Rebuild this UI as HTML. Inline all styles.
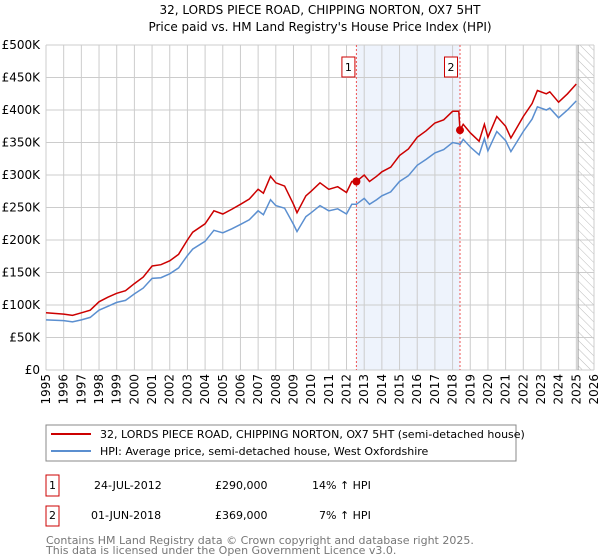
<!DOCTYPE html>
<html><head><meta charset="utf-8"><style>
body{margin:0;background:#fff;font-family:"DejaVu Sans","Liberation Sans",sans-serif;}
svg{display:block}
</style></head><body>
<svg id="chart" width="600" height="560" xmlns="http://www.w3.org/2000/svg" font-family="DejaVu Sans, Liberation Sans, sans-serif">
<text x="320" y="14" text-anchor="middle" font-size="12">32, LORDS PIECE ROAD, CHIPPING NORTON, OX7 5HT</text>
<text x="320" y="31" text-anchor="middle" font-size="12">Price paid vs. HM Land Registry's House Price Index (HPI)</text>
<g id="plot"></g>
<g>
<rect x="46" y="425" width="470" height="36" fill="#fff" stroke="#888"/>
<line x1="51" y1="434" x2="91" y2="434" stroke="#cc0000" stroke-width="2"/>
<text x="100" y="438" font-size="11">32, LORDS PIECE ROAD, CHIPPING NORTON, OX7 5HT (semi-detached house)</text>
<line x1="51" y1="451" x2="91" y2="451" stroke="#5b8fd0" stroke-width="2"/>
<text x="100" y="455" font-size="11">HPI: Average price, semi-detached house, West Oxfordshire</text>
</g>
<g font-size="11">
<rect x="46" y="475" width="13" height="21" fill="#fff" stroke="#cc0000"/>
<text x="52.5" y="489" text-anchor="middle">1</text>
<text x="94" y="489">24-JUL-2012</text>
<text x="215" y="489">£290,000</text>
<text x="312" y="489">14% ↑ HPI</text>
</g>
<g font-size="11">
<rect x="46" y="506" width="13" height="20" fill="#fff" stroke="#cc0000"/>
<text x="52.5" y="519" text-anchor="middle">2</text>
<text x="91" y="519">01-JUN-2018</text>
<text x="215" y="519">£369,000</text>
<text x="319" y="519">7% ↑ HPI</text>
</g>
<text x="46" y="544" font-size="11" fill="#777">Contains HM Land Registry data © Crown copyright and database right 2025.</text>
<text x="46" y="554" font-size="11" fill="#777">This data is licensed under the Open Government Licence v3.0.</text>
</svg>
<script>
const dates=[1995,1996,1996.5,1997,1997.5,1998,1998.5,1999,1999.5,2000,2000.5,2001,2001.5,2002,2002.5,2003,2003.3,2004,2004.5,2005,2005.5,2006,2006.5,2007,2007.3,2007.7,2008,2008.5,2009,2009.2,2009.7,2010,2010.5,2011,2011.5,2012,2012.3,2012.56,2013,2013.3,2013.7,2014,2014.5,2015,2015.5,2016,2016.5,2017,2017.5,2018,2018.35,2018.42,2018.6,2019,2019.5,2019.8,2020,2020.5,2021,2021.3,2022,2022.5,2022.8,2023.3,2023.5,2024,2024.5,2025];
const redValues=[88,86,84,88,92,105,112,118,122,133,143,160,162,168,178,200,212,225,245,240,247,255,263,278,272,298,288,283,255,242,268,275,288,278,282,273,290,290,300,290,298,305,312,330,340,358,368,380,385,398,398,369,378,365,352,378,358,390,375,357,390,410,430,425,428,412,425,440];
const hpiValues=[77,76,74,77,81,92,98,104,107,117,126,141,142,148,157,176,186,198,215,211,217,224,231,245,239,262,253,249,224,213,236,242,253,245,248,240,255,255,264,255,262,268,274,290,299,315,324,334,339,350,348,347,355,343,331,356,337,367,353,336,367,386,405,400,403,388,400,414];
const yTicks=[0,50,100,150,200,250,300,350,400,450,500];
const yTickLabels=["£0","£50K","£100K","£150K","£200K","£250K","£300K","£350K","£400K","£450K","£500K"];
const years=[1995,1996,1997,1998,1999,2000,2001,2002,2003,2004,2005,2006,2007,2008,2009,2010,2011,2012,2013,2014,2015,2016,2017,2018,2019,2020,2021,2022,2023,2024,2025,2026];
const saleDates=[2012.56,2018.42];
const salePrices=[290,369];
const dataEnd=2025.1;
const NS="http://www.w3.org/2000/svg";
const L=46,R=594,T=45,B=370;
const xs=d=>L+(d-1995)/(2026-1995)*(R-L);
const ys=v=>B-v/500*(B-T);
const g=document.getElementById('plot');
function mk(t,a){const e=document.createElementNS(NS,t);for(const k in a)e.setAttribute(k,a[k]);g.appendChild(e);return e;}
let e;
e=mk('rect',{x:xs(saleDates[0]),y:T,width:xs(saleDates[1])-xs(saleDates[0]),height:B-T,fill:'#eef3fc'});


const defs=document.createElementNS(NS,'defs');
defs.innerHTML='<pattern id="hatch" width="6" height="6" patternUnits="userSpaceOnUse" patternTransform="rotate(-45)"><line x1="0" y1="0" x2="0" y2="6" stroke="#bbb" stroke-width="1"/></pattern>';
g.appendChild(defs);
e=mk('rect',{x:xs(dataEnd),y:T,width:R-xs(dataEnd),height:B-T,fill:'url(#hatch)'});


yTicks.forEach((v,i)=>{
 e=mk('line',{x1:L,x2:R,y1:ys(v),y2:ys(v),stroke:'#ccc'});
 
 
 e=mk('text',{x:L-6,y:ys(v)+4,'text-anchor':'end','font-size':12});
 e.textContent=yTickLabels[i];
 
 
});
years.forEach(y=>{
 e=mk('line',{x1:xs(y),x2:xs(y),y1:T,y2:B,stroke:'#ccc'});
 
 
 e=mk('text',{x:0,y:0,'text-anchor':'end','font-size':12,transform:`translate(${xs(y)+4},${B+4}) rotate(-90)`});
 e.textContent=y;
 
 
});
e=mk('line',{x1:xs(dataEnd),x2:xs(dataEnd),y1:T,y2:B,stroke:'#999'});


saleDates.forEach((d,i)=>{
 e=mk('line',{x1:xs(d),x2:xs(d),y1:T,y2:B,stroke:'#e55','stroke-dasharray':'2,2'});
 
 
 e=mk('rect',{x:xs(d)-(i?9:8)-6.5,y:57,width:13,height:20,fill:'#fff',stroke:'#cc0000'});
 
 
 e=mk('text',{x:xs(d)-(i?9:8),y:71,'text-anchor':'middle','font-size':11});
 e.textContent=String(i+1);
 
 
});
const pts=a=>dates.map((d,i)=>xs(d).toFixed(1)+','+ys(a[i]).toFixed(1)).join(' ');
e=mk('polyline',{points:pts(hpiValues),fill:'none',stroke:'#5b8fd0','stroke-width':1.5});


e=mk('polyline',{points:pts(redValues),fill:'none',stroke:'#cc0000','stroke-width':1.5});


saleDates.forEach((d,i)=>{
 e=mk('circle',{cx:xs(d),cy:ys(salePrices[i]),r:4,fill:'#cc0000'});
 
 
});
</script>
</body></html>
